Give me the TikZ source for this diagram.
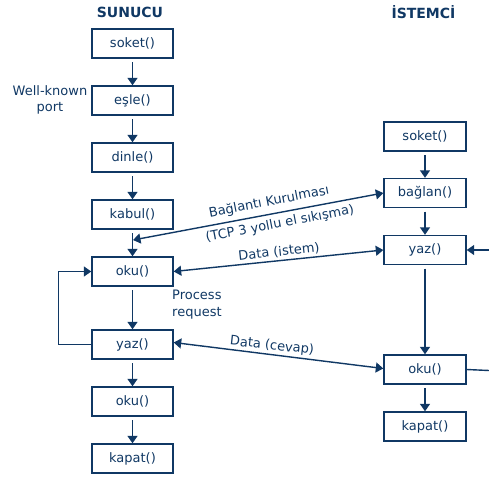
\documentclass[tikz,border=0pt]{standalone}
\usepackage{fontspec}
\setmainfont{DejaVu Sans}
\usetikzlibrary{arrows.meta}
\definecolor{navy}{RGB}{16,56,100}
\begin{document}
\begin{tikzpicture}[x=1pt,y=-1pt,
  every node/.style={text=navy,font=\fontsize{13}{16.5}\selectfont},
  fbox/.style={draw=navy,line width=1.4pt,fill=white,minimum width=81pt,minimum height=29pt,inner sep=0pt},
  title/.style={font=\fontsize{14}{16}\selectfont\bfseries},
  lbl/.style={inner sep=0pt},
  tip/.tip={Triangle[length=7.5pt,width=10pt]},
  conn/.style={draw=navy,line width=1.4pt,-tip},
  dconn/.style={draw=navy,line width=1.4pt,tip-tip},
  plain/.style={draw=navy,line width=1.4pt},
  gap/.style={shorten <=3.5pt}]
\useasboundingbox (0,0) rectangle (489,479);
% titles
\node[title] (tsun) at (130,12) {SUNUCU};
\node[title] (tist) at (423.5,12) {İSTEMCİ};
% server column
\node[fbox] (ssoket) at (132.5,43.5) {soket()};
\node[fbox] (sesle) at (132.5,100.5) {eşle()};
\node[fbox] (sdinle) at (132.5,157.5) {dinle()};
\node[fbox] (skabul) at (132.5,214.5) {kabul()};
\node[fbox] (soku) at (132.5,271.5) {oku()};
\node[fbox] (syaz) at (132.5,344.5) {yaz()};
\node[fbox] (soku2) at (132.5,401.5) {oku()};
\node[fbox] (skapat) at (132.5,458.5) {kapat()};
% client column
\node[fbox,minimum width=82pt] (csoket) at (425,136.5) {soket()};
\node[fbox,minimum width=82pt] (cbaglan) at (425,193) {bağlan()};
\node[fbox,minimum width=82pt] (cyaz) at (425,250) {yaz()};
\node[fbox,minimum width=82pt] (coku) at (425,369.5) {oku()};
\node[fbox,minimum width=82pt] (ckapat) at (425,426.5) {kapat()};
% side labels
\node[lbl,align=center] (wk) at (50,100) {Well-known\\port};
\node[lbl,align=left,anchor=west] (proc) at (172,304.5) {Process\\request};
% server vertical arrows
\draw[conn,gap] (ssoket) -- (sesle);
\draw[conn,gap] (sesle) -- (sdinle);
\draw[conn,gap] (sdinle) -- (skabul);
\draw[conn,gap] (skabul) -- (soku);
\draw[conn,gap] (soku) -- (syaz);
\draw[conn,gap] (syaz) -- (soku2);
\draw[conn,gap] (soku2) -- (skapat);
% loop
\draw[conn] (syaz.west) -- ++(-33,0) |- (soku.west);
% client vertical arrows
\draw[conn,gap] (csoket) -- (cbaglan);
\draw[conn,gap] (cbaglan) -- (cyaz);
\draw[conn,gap] (cyaz) -- (coku);
\draw[conn,gap] (coku) -- (ckapat);
% right edge stubs
\coordinate (rin) at (489,250);
\coordinate (rout) at (489,370.5);
\draw[conn] (rin) -- (cyaz.east);
\draw[plain] (coku.east) -- (rout);
% cross connectors
\coordinate (meet) at (133,240);
\draw[dconn] (meet) -- (cbaglan.west);
\draw[dconn] (soku.east) -- (cyaz.west);
\draw[dconn] ([yshift=2pt]syaz.east) -- ([yshift=1pt]coku.west);
% connector labels
\node[lbl,rotate=11] (lb1) at (269,202) {Bağlantı Kurulması};
\node[lbl,rotate=11] (lb2) at (280,224) {(TCP 3 yollu el sıkışma)};
\node[lbl,rotate=6.3] (lb3) at (279,252) {Data (istem)};
\node[lbl,rotate=-6.3] (lb4) at (272,346) {Data (cevap)};
\end{tikzpicture}
\end{document}
